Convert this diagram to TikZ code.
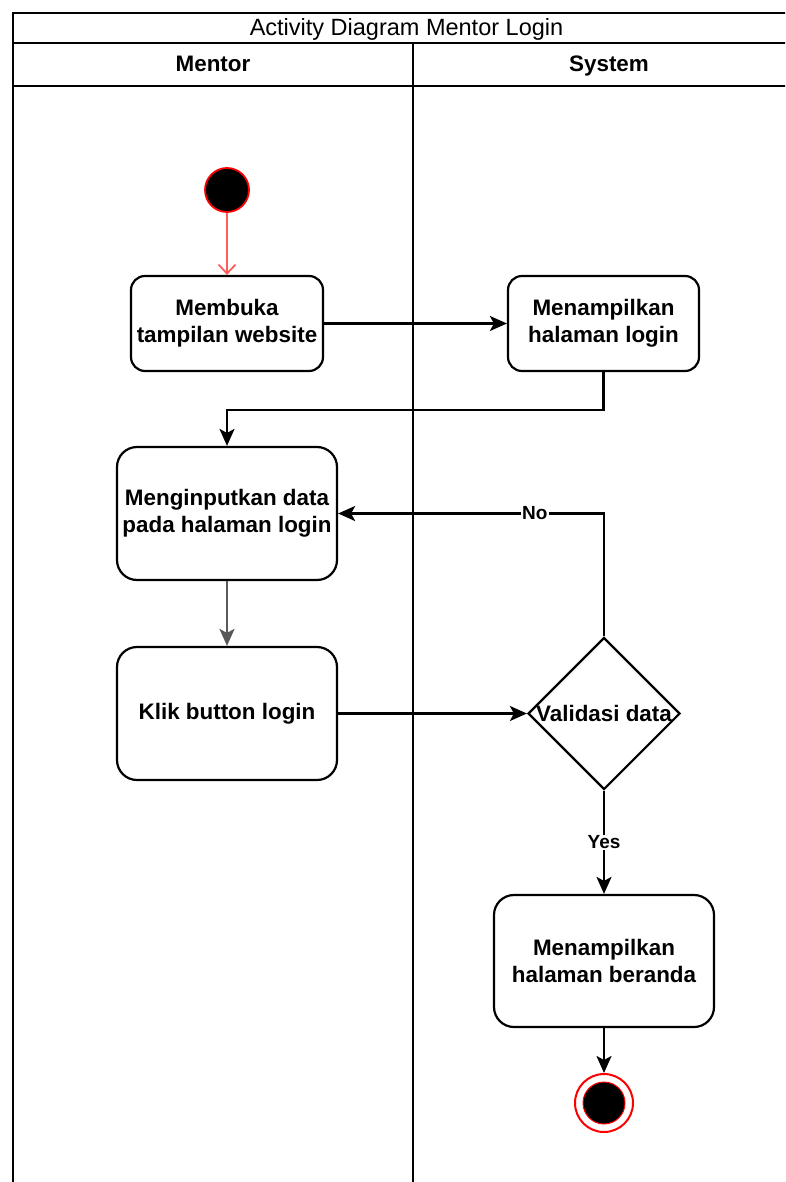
\documentclass[tikz,border=0pt]{standalone}
\usepackage{fontspec}
\setmainfont{Liberation Sans}
\usetikzlibrary{arrows.meta,shapes.geometric}
\definecolor{startred}{HTML}{FF0000}
\definecolor{arrred}{HTML}{FF5C5C}
\begin{document}
\begin{tikzpicture}[x=1pt,y=-1pt,
  txt/.style={font=\fontsize{22.4}{27}\selectfont\bfseries, align=center},
  frame/.style={line width=1.8pt, black},
  act/.style={txt, draw, line width=2.2pt, inner sep=0pt, minimum width=#1},
  arr/.style={line width=2.2pt, -{Stealth[length=17pt,width=15pt,inset=4pt]}},
  lbl/.style={font=\fontsize{19}{22}\selectfont\bfseries, fill=white, inner sep=1pt}
]
\useasboundingbox (0,0) rectangle (785,1182);
\clip (0,0) rectangle (785,1182);
\fill[white] (0,0) rectangle (785,1182);

% swimlane frame
\draw[frame] (13,1200) -- (13,13) -- (820,13);
\draw[frame] (13,43) -- (820,43);
\draw[frame] (13,86) -- (820,86);
\draw[frame] (413,43) -- (413,1200);
\node[font=\fontsize{23.5}{27}\selectfont, anchor=base] (title) at (406.5,36) {Activity Diagram Mentor Login};
\node[txt, anchor=base] (lanem) at (213,72) {Mentor};
\node[txt, anchor=base] (lanes) at (609,72) {System};

% nodes
\node[circle, fill=black, draw=startred, line width=1.8pt, minimum size=44pt, inner sep=0pt] (start) at (227,190) {};
\node[act=192pt, minimum height=95pt, rounded corners=14pt] (m1) at (227,323.5) {Membuka\\tampilan website};
\node[act=191pt, minimum height=95pt, rounded corners=14pt] (s1) at (603.5,323.5) {Menampilkan\\halaman login};
\node[act=220pt, minimum height=133pt, rounded corners=20pt] (m2) at (227,513.5) {Menginputkan data\\pada halaman login};
\node[act=220pt, minimum height=133pt, rounded corners=20pt] (m3) at (227,713.5) {Klik button login};
\node[txt, diamond, draw, line width=2.2pt, aspect=1, minimum width=152pt, minimum height=152pt, inner sep=0pt] (dec) at (604,713.5) {\makebox[0pt]{Validasi data}};
\node[act=220pt, minimum height=132pt, rounded corners=20pt] (s2) at (604,961) {Menampilkan\\halaman beranda};
\node[circle, draw=startred, line width=2pt, fill=white, minimum size=58pt, inner sep=0pt] (end) at (604,1103) {};
\node[circle, fill=black, draw=startred, line width=1pt, minimum size=42pt, inner sep=0pt] (endcore) at (end) {};

% connectors
\draw[arrred, line width=1.8pt, -{Straight Barb[length=9pt,width=17pt]}] (start) -- (m1);
\draw[arr] (m1) -- (s1);
\draw[arr] (s1.south) -- ++(0,38) -| (m2.north);
\draw[arr, black!65] (m2) -- (m3);
\draw[arr] (m3.east) -- (dec.west);
\draw[arr] (dec.north) |- (m2.east) node[lbl, pos=0.63] {No};
\draw[arr] (dec.south) -- (s2.north) node[lbl, pos=0.5] {Yes};
\draw[arr] (s2.south) -- (end.north);
\end{tikzpicture}
\end{document}
